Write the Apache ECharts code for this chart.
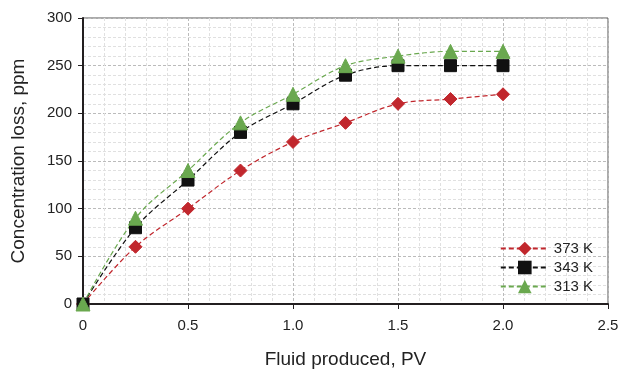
<!DOCTYPE html>
<html>
<head>
<meta charset="utf-8">
<script src="https://cdn.jsdelivr.net/npm/echarts@6/dist/echarts.min.js"></script>
<style>html,body{margin:0;padding:0;background:#fff}#c{width:620px;height:371px}</style>
</head>
<body>
<div id="c"></div>
<script>
const xValues = [0, 0.25, 0.5, 0.75, 1.0, 1.25, 1.5, 1.75, 2.0];
const s373 = [0, 60, 100, 140, 170, 190, 210, 215, 220];
const s343 = [0, 80, 130, 180, 210, 240, 250, 250, 250];
const s313 = [0, 90, 140, 190, 220, 250, 260, 265, 265];
const seriesNames = ['373 K', '343 K', '313 K'];

const pair = arr => xValues.map((x, i) => [x, arr[i]]);
const chart = echarts.init(document.getElementById('c'));
const font = 'Liberation Sans, Arial, sans-serif';
const mk = (name, data, color, symbol, size) => ({
  name, type: 'line', data: pair(data), smooth: 0.35,
  symbol, symbolSize: size,
  lineStyle: { color, width: 1.2, type: [5, 3] },
  itemStyle: { color, borderColor: color },
  z: 3
});
chart.setOption({
  animation: false,
  grid: { left: 83, right: 12, top: 18, bottom: 67, outerBoundsMode: 'none', containLabel: false,
    show: true, borderColor: '#555', borderWidth: 1, backgroundColor: 'transparent' },
  legend: {
    orient: 'vertical', right: 22, top: 236, itemGap: 4, itemWidth: 48, itemHeight: 17,
    textStyle: { fontFamily: font, fontSize: 15, color: '#222' },
    data: seriesNames
  },
  xAxis: {
    type: 'value', min: 0, max: 2.5, interval: 0.5,
    name: 'Fluid produced, PV', nameLocation: 'middle', nameGap: 46,
    nameTextStyle: { fontFamily: font, fontSize: 19, color: '#222' },
    axisLine: { onZero: false, lineStyle: { color: '#231f20', width: 2 } },
    axisTick: { show: true, length: 5, lineStyle: { color: '#231f20' } },
    axisLabel: { fontFamily: font, fontSize: 15, color: '#222', margin: 14,
      formatter: v => v === 0 ? '0' : v.toFixed(1) },
    splitLine: { show: true, lineStyle: { color: '#bbb', type: [3, 2], width: 1 } },
    minorTick: { show: false, splitNumber: 5 },
    minorSplitLine: { show: true, lineStyle: { color: '#e0e0e0', type: [3, 2], width: 1 } }
  },
  yAxis: {
    type: 'value', min: 0, max: 300, interval: 50,
    name: 'Concentration loss, ppm', nameLocation: 'middle', nameGap: 55, nameRotate: 90,
    nameTextStyle: { fontFamily: font, fontSize: 19, color: '#222' },
    axisLine: { show: true, lineStyle: { color: '#231f20', width: 2 } },
    axisTick: { show: true, length: 5, lineStyle: { color: '#231f20' } },
    axisLabel: { fontFamily: font, fontSize: 15, color: '#222', margin: 11 },
    splitLine: { show: true, lineStyle: { color: '#bbb', type: [3, 2], width: 1 } },
    minorTick: { show: false, splitNumber: 5 },
    minorSplitLine: { show: true, lineStyle: { color: '#e0e0e0', type: [3, 2], width: 1 } }
  },
  series: [
    mk(seriesNames[0], s373, '#c1272d', 'diamond', 13),
    mk(seriesNames[1], s343, '#111111', 'rect', 12),
    mk(seriesNames[2], s313, '#6aa84f', 'triangle', 14)
  ]
});
</script>
</body>
</html>
